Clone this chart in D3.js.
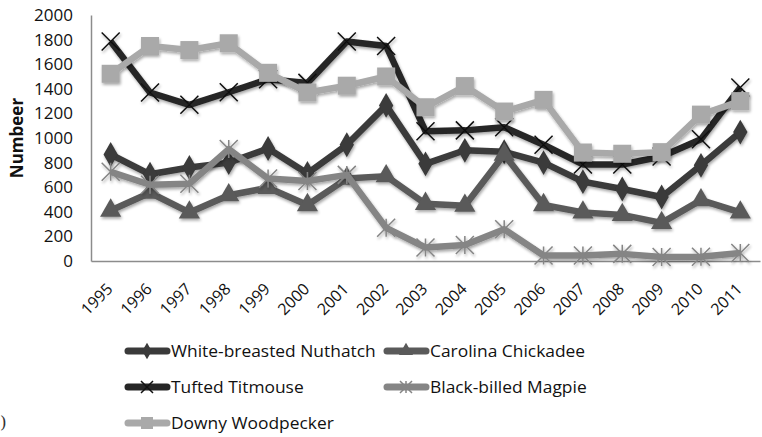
<!DOCTYPE html>
<html>
<head>
<meta charset="utf-8">
<script src="https://cdn.jsdelivr.net/npm/d3@7"></script>
<style>
  body { margin: 0; background: #fff; }
  svg { display: block; font-family: "Open Sans", sans-serif; }
</style>
</head>
<body>
<script>
const w = 762;
const h = 437;

const years = ["1995", "1996", "1997", "1998", "1999", "2000", "2001", "2002", "2003",
  "2004", "2005", "2006", "2007", "2008", "2009", "2010", "2011"];
const yTicks = [0, 200, 400, 600, 800, 1000, 1200, 1400, 1600, 1800, 2000];

const nuthatch = [866, 705, 760, 800, 915, 712, 945, 1265, 790, 900, 888, 800, 645, 585, 520, 778, 1048];
const chickadee = [410, 555, 395, 535, 595, 455, 670, 690, 465, 450, 865, 455, 395, 375, 310, 495, 395];
const titmouse = [1785, 1370, 1270, 1372, 1478, 1448, 1785, 1748, 1055, 1062, 1088, 945, 785, 785, 850, 990, 1410];
const magpie = [725, 620, 628, 910, 670, 650, 700, 270, 110, 130, 258, 45, 45, 58, 32, 35, 65];
const woodpecker = [1522, 1748, 1715, 1770, 1530, 1370, 1425, 1500, 1250, 1422, 1215, 1310, 882, 872, 885, 1190, 1300];

const series = [
  { name: "White-breasted Nuthatch", values: nuthatch, color: "#3a3a3a", marker: "diamond" },
  { name: "Carolina Chickadee", values: chickadee, color: "#5a5a5a", marker: "triangle" },
  { name: "Tufted Titmouse", values: titmouse, color: "#262626", marker: "x" },
  { name: "Black-billed Magpie", values: magpie, color: "#858585", marker: "star" },
  { name: "Downy Woodpecker", values: woodpecker, color: "#a9a9a9", marker: "square" }
];

const margin = { left: 91, right: 2, top: 15, bottom: 175 };

const svg = d3.select("body").append("svg").attr("width", w).attr("height", h);

const x = d3.scaleBand().domain(years).range([margin.left, w - margin.right]);
const y = d3.scaleLinear().domain([0, 2000]).range([h - margin.bottom - 1, margin.top]);

// axes
const yAxis = d3.axisLeft(y).tickValues(yTicks).tickFormat(d3.format("d")).tickSize(0).tickPadding(18);
const gy = svg.append("g").attr("transform", `translate(${margin.left},0)`).call(yAxis);
gy.select(".domain").attr("stroke", "#8c8c8c").attr("stroke-width", 1.5);
gy.selectAll("text").attr("font-family", "Open Sans, sans-serif").attr("font-size", 17).attr("fill", "#111");

const xAxis = d3.axisBottom(x).tickSize(0).tickPadding(0);
const gx = svg.append("g").attr("transform", `translate(0,${y(0)})`).call(xAxis);
gx.select(".domain").attr("stroke", "#8c8c8c").attr("stroke-width", 1.5);
gx.selectAll("text")
  .attr("font-family", "Open Sans, sans-serif")
  .attr("font-size", 16)
  .attr("fill", "#111")
  .attr("text-anchor", "end")
  .attr("dy", 0)
  .attr("transform", "translate(3,29) rotate(-45)");

svg.append("text")
  .attr("transform", `translate(23,${(y(0) + y(2000)) / 2}) rotate(-90)`)
  .attr("text-anchor", "middle")
  .attr("font-family", "Open Sans, sans-serif")
  .attr("font-weight", "bold")
  .attr("font-size", 17)
  .attr("fill", "#111")
  .text("Numbeer");

// shadow filter
const defs = svg.append("defs");
const f = defs.append("filter").attr("id", "sh").attr("x", "-20%").attr("y", "-20%").attr("width", "140%").attr("height", "140%");
f.append("feGaussianBlur").attr("in", "SourceAlpha").attr("stdDeviation", 1.5);
f.append("feOffset").attr("dx", 1).attr("dy", 2).attr("result", "b");
f.append("feComponentTransfer").append("feFuncA").attr("type", "linear").attr("slope", 0.35);
const m = f.append("feMerge");
m.append("feMergeNode");
m.append("feMergeNode").attr("in", "SourceGraphic");

function drawMarker(g, type, color, size) {
  const s = size;
  if (type === "diamond") {
    g.append("path").attr("d", d3.symbol(d3.symbolDiamond, s * s * 0.55)()).attr("fill", color);
  } else if (type === "triangle") {
    g.append("path").attr("d", d3.symbol(d3.symbolTriangle, s * s * 0.6)()).attr("fill", color);
  } else if (type === "square") {
    g.append("rect").attr("x", -s / 2).attr("y", -s / 2).attr("width", s).attr("height", s).attr("fill", color);
  } else if (type === "x") {
    const r = s * 0.5;
    g.append("path").attr("d", `M${-r},${-r}L${r},${r}M${-r},${r}L${r},${-r}`)
      .attr("stroke", "#111").attr("stroke-width", 1.5);
  } else if (type === "star") {
    const r = s * 0.5;
    g.append("path").attr("d", `M${-r},${-r}L${r},${r}M${-r},${r}L${r},${-r}M0,${-r}L0,${r}`)
      .attr("stroke", color).attr("stroke-width", 1.5);
  }
}

const line = d3.line().x((d, i) => x(years[i]) + x.bandwidth() / 2).y(d => y(d));

series.forEach(s => {
  const g = svg.append("g").attr("filter", "url(#sh)");
  g.append("path").datum(s.values).attr("d", line)
    .attr("fill", "none").attr("stroke", s.color).attr("stroke-width", 6.5).attr("stroke-linejoin", "round");
  s.values.forEach((v, i) => {
    const mg = g.append("g").attr("transform", `translate(${x(years[i]) + x.bandwidth() / 2},${y(v)})`);
    drawMarker(mg, s.marker, s.color, 18);
  });
});

// legend (text squeezed a little to mimic a condensed face)
const legendPos = [
  [125, 351], [384, 351],
  [125, 387], [384, 387],
  [125, 423]
];
let squeeze = 1;
series.forEach((s, i) => {
  const [lx, ly] = legendPos[i];
  const g = svg.append("g").attr("transform", `translate(${lx},${ly})`);
  g.append("line").attr("x1", 3).attr("x2", 42).attr("y1", 0).attr("y2", 0)
    .attr("stroke", s.color).attr("stroke-width", 7).attr("stroke-linecap", "round");
  const mg = g.append("g").attr("transform", "translate(22,0)");
  drawMarker(mg, s.marker, s.color, 12);
  const t = g.append("text").attr("y", 6).attr("font-size", 17).attr("fill", "#111").text(s.name);
  if (i === 0) squeeze = 205 / t.node().getComputedTextLength();
  t.attr("transform", `translate(46,0) scale(${squeeze},1)`);
});

svg.append("text").attr("x", 0).attr("y", 428).attr("font-family", "DejaVu Serif, serif")
  .attr("font-size", 17).attr("fill", "#333").text(")");
</script>
</body>
</html>
